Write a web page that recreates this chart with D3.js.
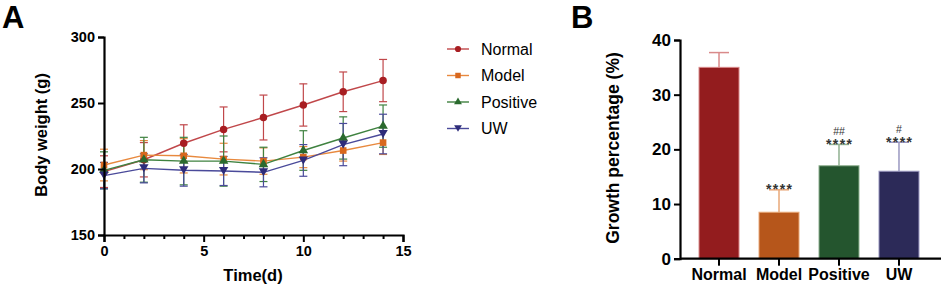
<!DOCTYPE html>
<html><head><meta charset="utf-8">
<script src="https://cdn.jsdelivr.net/npm/d3@7"></script>
<style>body{margin:0;background:#fff}svg{display:block}</style>
</head><body>
<svg id="c" width="941" height="291"></svg>
<script>
const days = [0, 2, 4, 6, 8, 10, 12, 14];
const groups = ["Normal", "Model", "Positive", "UW"];
const normalMean = [198, 207, 219.5, 230, 239, 248.5, 258.5, 267];
const normalErr  = [12, 13, 14, 17, 17, 16, 15, 16];
const modelMean  = [203, 210.5, 210, 207.5, 206, 209, 214, 220];
const modelErr   = [12, 11, 13, 12, 10, 8, 8, 9];
const positiveMean = [199, 207, 206, 206, 203.5, 214, 223.5, 232.5];
const positiveErr  = [14, 17, 18, 19, 13, 15, 16, 16];
const uwMean = [195, 200.5, 199, 198.5, 197.5, 206.5, 218.5, 226.5];
const uwErr  = [10, 11, 12, 11, 11, 12, 16, 15];
const growthMean = [35, 8.5, 17, 16];
const growthErr  = [2.7, 4.1, 3.9, 5.3];
const growthMarks = [["", ""], ["", "****"], ["##", "****"], ["#", "****"]];
const yTicksA = [150, 200, 250, 300];
const xTicksA = [0, 5, 10, 15];
const yTicksB = [0, 10, 20, 30, 40];

const lineColors = ["#c0474a", "#e8893e", "#3f8240", "#4a4a9a"];
const markColors = ["#a81e22", "#d8681e", "#2a6a2e", "#2e2c7a"];
const barFill = ["#931c1e", "#b6561b", "#24552e", "#2c2a58"];
const barEdge = ["#d98a8a", "#e9a878", "#8fb090", "#9a98c0"];

const series = [
  {name: "Normal", mean: normalMean, err: normalErr, sym: d3.symbolCircle},
  {name: "Model", mean: modelMean, err: modelErr, sym: d3.symbolSquare},
  {name: "Positive", mean: positiveMean, err: positiveErr, sym: d3.symbolTriangle},
  {name: "UW", mean: uwMean, err: uwErr, sym: "tridown"}
];

const svg = d3.select("#c");
const FONT = "Arial, 'Liberation Sans', Helvetica, sans-serif";

function marker(sym, size) {
  if (sym === "tridown") {
    const h = Math.sqrt(size) * 1.2;
    return `M${-h/1.7},${-h/2}L${h/1.7},${-h/2}L0,${h/2}Z`;
  }
  if (sym === d3.symbolTriangle) return d3.symbol(sym, size * 0.9)();
  return d3.symbol(sym, size)();
}

// Panel A
const xA = d3.scaleLinear().domain([0, 15]).range([104, 403]);
const yA = d3.scaleLinear().domain([150, 300]).range([235, 37]);

const gA = svg.append("g");
series.forEach((s, i) => {
  const g = gA.append("g");
  days.forEach((d, k) => {
    const x = xA(d), y1 = yA(s.mean[k] - s.err[k]), y2 = yA(s.mean[k] + s.err[k]);
    g.append("line").attr("x1", x).attr("x2", x).attr("y1", y1).attr("y2", y2)
      .attr("stroke", lineColors[i]).attr("stroke-width", 1.2);
    [y1, y2].forEach(yy => g.append("line").attr("x1", x - 4).attr("x2", x + 4).attr("y1", yy).attr("y2", yy)
      .attr("stroke", lineColors[i]).attr("stroke-width", 1.2));
  });
});
series.forEach((s, i) => {
  gA.append("path").datum(days.map((d, k) => [d, s.mean[k]]))
    .attr("d", d3.line().x(p => xA(p[0])).y(p => yA(p[1])))
    .attr("fill", "none").attr("stroke", lineColors[i]).attr("stroke-width", 1.4);
});
series.forEach((s, i) => {
  days.forEach((d, k) => {
    gA.append("path").attr("d", marker(s.sym, 44))
      .attr("transform", `translate(${xA(d)},${yA(s.mean[k])})`)
      .attr("fill", markColors[i]);
  });
});

svg.append("g").attr("class", "axA").attr("transform", `translate(${xA(0)},0)`)
  .call(d3.axisLeft(yA).tickValues(yTicksA).tickSize(6).tickPadding(3));
svg.append("g").attr("class", "axA").attr("transform", `translate(0,${yA(150)})`)
  .call(d3.axisBottom(xA).tickValues(xTicksA).tickSize(7).tickPadding(4));
svg.append("g").attr("transform", `translate(0,${yA(150)})`)
  .call(d3.axisBottom(xA).tickValues(d3.range(0, 16).filter(v => v % 5 !== 0)).tickSize(4).tickFormat(""))
  .call(g => g.select(".domain").remove());

// Panel B
const xB = d3.scaleBand().domain(groups).range([680, 938]).paddingInner(1/3).paddingOuter(0.317);
const yB = d3.scaleLinear().domain([0, 40]).range([258.7, 40]);
const gB = svg.append("g");
groups.forEach((g, i) => {
  const cx = xB(g) + xB.bandwidth() / 2;
  const top = yB(growthMean[i] + growthErr[i]);
  gB.append("line").attr("x1", cx).attr("x2", cx).attr("y1", yB(growthMean[i])).attr("y2", top)
    .attr("stroke", barEdge[i]).attr("stroke-width", 1.5);
  gB.append("line").attr("x1", cx - 10).attr("x2", cx + 10).attr("y1", top).attr("y2", top)
    .attr("stroke", barEdge[i]).attr("stroke-width", 1.5);
  gB.append("rect").attr("x", xB(g)).attr("width", xB.bandwidth())
    .attr("y", yB(growthMean[i])).attr("height", yB(0) - yB(growthMean[i]))
    .attr("fill", barFill[i]).attr("stroke", barEdge[i]).attr("stroke-width", 1);
  const [hash, stars] = growthMarks[i];
  if (stars) gB.append("text").attr("x", cx + 0.7).attr("y", top + 4.5).attr("text-anchor", "middle")
    .attr("font-family", FONT).attr("font-weight", "bold").attr("letter-spacing", 1.4)
    .attr("font-size", 14).attr("fill", "#333").text(stars);
  if (hash) gB.append("text").attr("x", cx).attr("y", top - 9.5).attr("text-anchor", "middle")
    .attr("font-family", FONT).attr("font-size", 10.5).attr("fill", "#333").text(hash);
});
svg.append("g").attr("class", "axB").attr("transform", `translate(680,0)`)
  .call(d3.axisLeft(yB).tickValues(yTicksB).tickSize(6).tickPadding(3));
svg.append("g").attr("class", "axBx").attr("transform", `translate(0,${yB(0)})`)
  .call(d3.axisBottom(xB).tickSize(7).tickPadding(3).tickSizeOuter(0))
  .call(g => g.select(".domain").attr("d", "M680,0H941"));

svg.selectAll(".domain").attr("stroke", "#000").attr("stroke-width", 2.2);
svg.selectAll(".tick line").attr("stroke", "#000").attr("stroke-width", 2);
svg.selectAll(".tick text").attr("font-family", FONT).attr("font-weight", "bold")
  .attr("font-size", 14.5).attr("fill", "#000");
svg.selectAll(".axB .tick text").attr("font-size", 17);
svg.selectAll(".axBx .tick text").attr("font-size", 16);

// Labels
const lab = (x, y, t, size, rot, anchor="middle", weight="bold") => svg.append("text")
  .attr("transform", `translate(${x},${y})${rot ? " rotate(-90)" : ""}`)
  .attr("text-anchor", anchor).attr("font-family", FONT).attr("font-weight", weight)
  .attr("font-size", size).attr("fill", "#000").text(t);
lab(2, 28, "A", 31, false, "start");
lab(571, 28, "B", 31, false, "start");
lab(253, 281, "Time(d)", 16.5);
lab(47, 135, "Body weight (g)", 16.5, true);
lab(619, 148, "Growth percentage (%)", 17.5, true);

// Legend
series.forEach((s, i) => {
  const y = 49 + i * 26.5;
  svg.append("line").attr("x1", 447).attr("x2", 469).attr("y1", y).attr("y2", y)
    .attr("stroke", lineColors[i]).attr("stroke-width", 1.4);
  svg.append("path").attr("d", marker(s.sym, 30)).attr("transform", `translate(458,${y})`)
    .attr("fill", markColors[i]);
  lab(481, y + 5.5, s.name, 16, false, "start", "normal");
});
</script>
</body></html>
